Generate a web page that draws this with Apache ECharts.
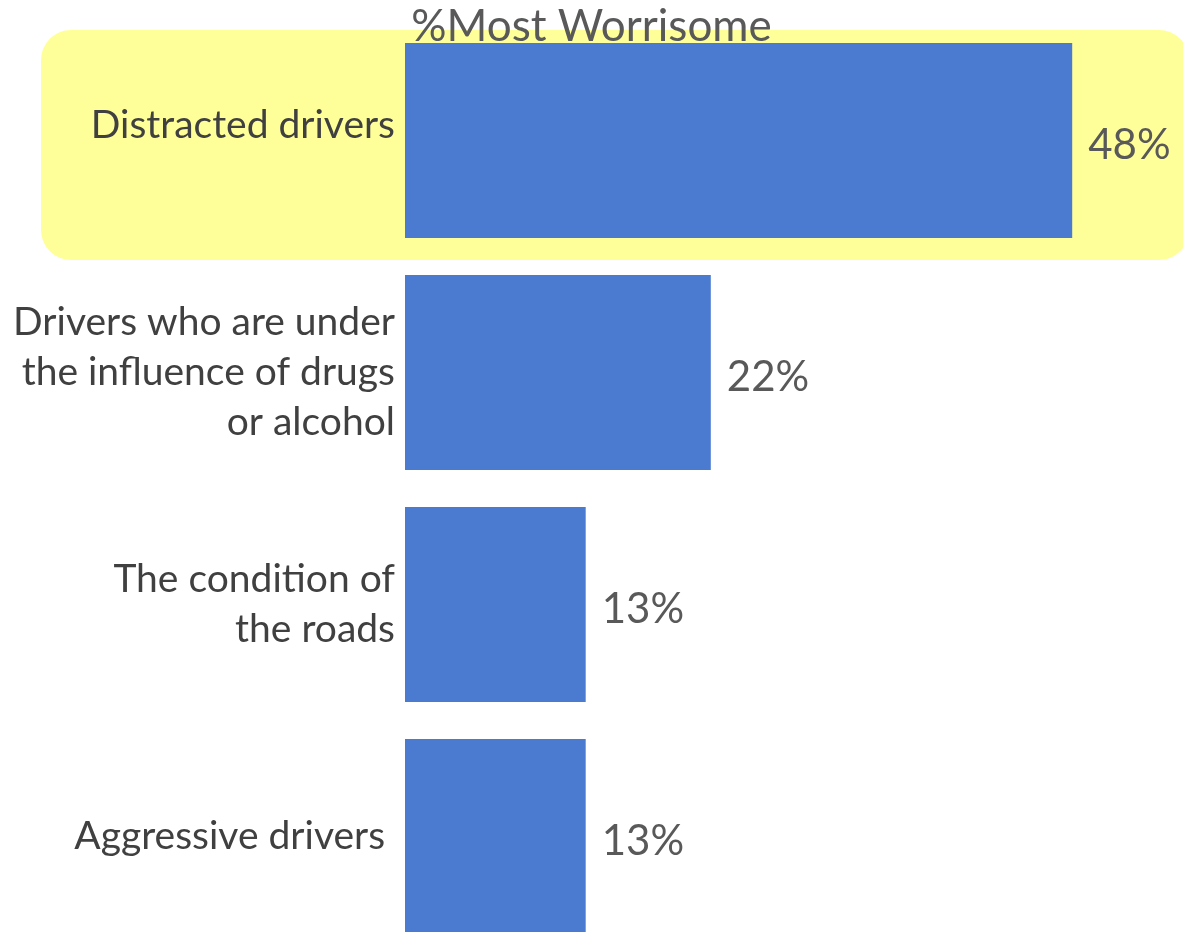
<!DOCTYPE html>
<html>
<head>
<meta charset="utf-8">
<script src="https://cdn.jsdelivr.net/npm/echarts@6/dist/echarts.min.js"></script>
<style>html,body{margin:0;padding:0;background:#fff}#c{width:1183px;height:932px}</style>
</head>
<body>
<div id="c"></div>
<script>
const categories = ["Distracted drivers", "Drivers who are under\nthe influence of drugs\nor alcohol", "The condition of\nthe roads", "Aggressive drivers "];
const values = [48, 22, 13, 13];
const titleText = "%Most Worrisome";

const chart = echarts.init(document.getElementById('c'));
chart.setOption({
  backgroundColor: '#ffffff',
  animation: false,
  title: {
    text: titleText,
    left: 'center',
    top: 0,
    textStyle: { fontFamily: 'Lato', fontSize: 44, fontWeight: 'normal', color: '#595959' },
    z: 10
  },
  graphic: [{
    type: 'rect',
    z: -10,
    silent: true,
    shape: { x: 41, y: 30, width: 1148, height: 230, r: 30 },
    style: { fill: '#FFFF99' }
  }],
  grid: { left: 405, top: 24.5, width: 695, height: 928, containLabel: false, outerBoundsMode: 'none' },
  xAxis: { type: 'value', min: 0, max: 50, show: false },
  yAxis: {
    type: 'category',
    inverse: true,
    data: categories,
    axisLine: { show: false },
    axisTick: { show: false },
    axisLabel: {
      fontFamily: 'Lato', fontSize: 39, color: '#404040', margin: 10, lineHeight: 50, align: 'right',
      formatter: (v, i) => i === 0 ? '{up|' + v + '}' : v,
      rich: { up: { fontFamily: 'Lato', fontSize: 39, color: '#404040', lineHeight: 50, padding: [0, 0, 30, 0] } }
    }
  },
  series: [{
    type: 'bar',
    data: values,
    barCategoryGap: '16%',
    itemStyle: { color: '#4B7BD0' },
    z: 2,
    label: {
      show: true,
      position: 'right',
      distance: 16,
      formatter: '{c}%',
      fontFamily: 'Lato',
      fontSize: 42,
      color: '#595959',
      offset: [0, 5]
    }
  }]
});
</script>
</body>
</html>
